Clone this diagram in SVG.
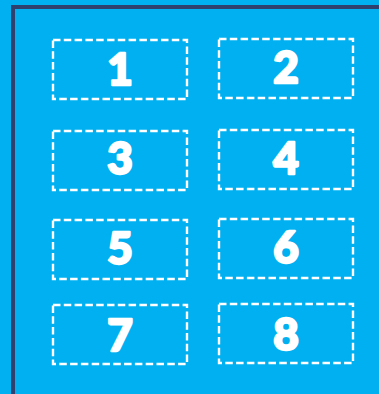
<svg xmlns="http://www.w3.org/2000/svg" width="379" height="394" viewBox="0 0 379 394">
<style>
.box{fill:none;stroke:#FFFFFF;stroke-width:2.4;stroke-dasharray:7.5 3.3}
.lbl{fill:#FFFFFF;stroke:#FFFFFF;stroke-width:2.4;stroke-linejoin:round;font-family:Lato,"Liberation Sans",sans-serif;font-weight:900;font-size:44px;text-anchor:middle}
</style>
<rect x="0" y="0" width="379" height="394" fill="#00B0F0"/>
<rect x="13" y="7" width="380" height="400" fill="none" stroke="#2F3F6E" stroke-width="4"/>
<g id="node1"><rect class="box" x="53" y="40" width="134" height="59"/><text class="lbl" x="120" y="85">1</text></g>
<g id="node2"><rect class="box" x="219" y="39" width="134" height="59"/><text class="lbl" x="286" y="83">2</text></g>
<g id="node3"><rect class="box" x="53" y="131" width="134" height="59"/><text class="lbl" x="120" y="174">3</text></g>
<g id="node4"><rect class="box" x="219" y="130" width="134" height="59"/><text class="lbl" x="286" y="174">4</text></g>
<g id="node5"><rect class="box" x="53" y="220" width="134" height="59"/><text class="lbl" x="120" y="264">5</text></g>
<g id="node6"><rect class="box" x="219" y="219" width="134" height="59"/><text class="lbl" x="286" y="263">6</text></g>
<g id="node7"><rect class="box" x="53" y="305" width="134" height="59"/><text class="lbl" x="120" y="351">7</text></g>
<g id="node8"><rect class="box" x="219" y="304" width="134" height="59"/><text class="lbl" x="286" y="350">8</text></g>
<g id="connectors"/>
</svg>
